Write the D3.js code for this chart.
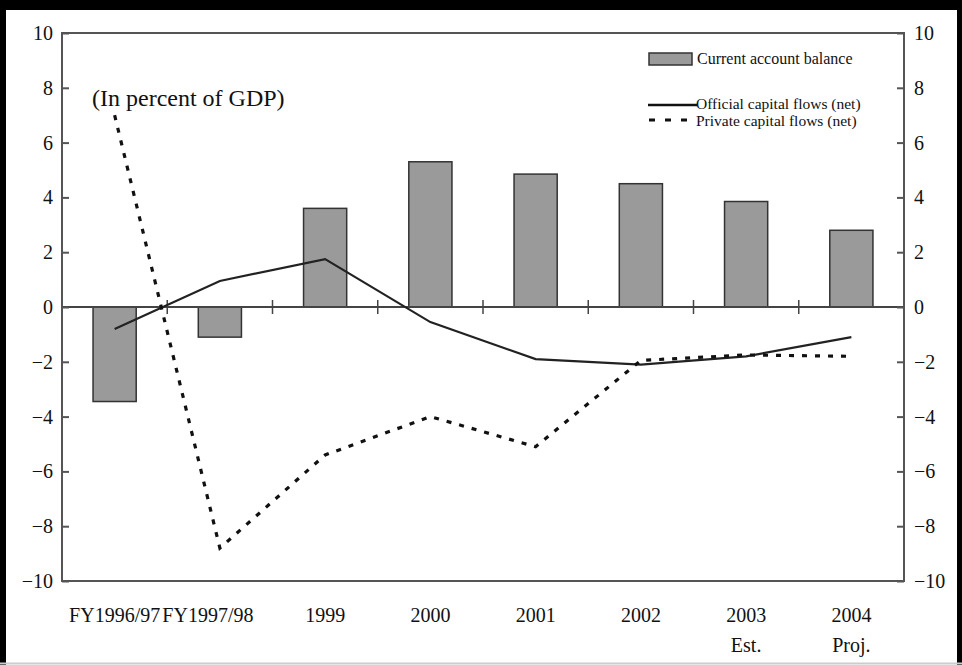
<!DOCTYPE html>
<html>
<head>
<meta charset="utf-8">
<script src="https://cdn.jsdelivr.net/npm/d3@7"></script>
<style>
  body { margin: 0; background: #fff; }
  svg text { font-family: "Liberation Serif", "Times New Roman", serif; fill: #111; }
</style>
</head>
<body>
<svg id="chart" width="962" height="665"></svg>
<script>
// categories and series (percent of GDP)
var years = ["FY1996/97", "FY1997/98", "1999", "2000", "2001", "2002", "2003", "2004"];
var subLabels = ["", "", "", "", "", "", "Est.", "Proj."];
var currentAccount = [-3.45, -1.1, 3.6, 5.3, 4.85, 4.5, 3.85, 2.8];
var officialFlows = [-0.8, 0.95, 1.75, -0.55, -1.9, -2.1, -1.8, -1.1];
var privateFlows = [7.0, -8.8, -5.4, -4.0, -5.1, -1.95, -1.75, -1.8];
var yTicks = [-10, -8, -6, -4, -2, 0, 2, 4, 6, 8, 10];

// plot box edges (don't use "top" -- it's window.top)
var plotL = 62, plotR = 904, plotT = 33, plotB = 581;

var svg = d3.select("#chart");

var x = d3.scaleBand()
    .domain(years)
    .range([plotL, plotR]);

var y = d3.scaleLinear()
    .domain([-10, 10])
    .range([plotB, plotT]);

// outer frame
svg.append("line").attr("x1", 3).attr("x2", 3).attr("y1", 0).attr("y2", 665)
    .attr("stroke", "#000").attr("stroke-width", 6);
svg.append("line").attr("x1", 0).attr("x2", 962).attr("y1", 5).attr("y2", 5)
    .attr("stroke", "#000").attr("stroke-width", 10);
svg.append("line").attr("x1", 959.5).attr("x2", 959.5).attr("y1", 0).attr("y2", 665)
    .attr("stroke", "#000").attr("stroke-width", 5);
svg.append("line").attr("x1", 0).attr("x2", 962).attr("y1", 663.5).attr("y2", 663.5)
    .attr("stroke", "#ccc").attr("stroke-width", 2);

// bars
svg.selectAll("rect.bar")
    .data(currentAccount)
  .enter().append("rect")
    .attr("class", "bar")
    .attr("x", function(d, i) { return x(years[i]) + x.bandwidth() * 0.295; })
    .attr("width", x.bandwidth() * 0.41)
    .attr("y", function(d) { return y(Math.max(d, 0)); })
    .attr("height", function(d) { return Math.abs(y(d) - y(0)); })
    .attr("fill", "#9a9a9a")
    .attr("stroke", "#333")
    .attr("stroke-width", 1.5);

// plot box
svg.append("rect")
    .attr("x", plotL).attr("y", plotT)
    .attr("width", plotR - plotL).attr("height", plotB - plotT)
    .attr("fill", "none").attr("stroke", "#555").attr("stroke-width", 2);

// zero line with category ticks
svg.append("line")
    .attr("x1", plotL).attr("x2", plotR)
    .attr("y1", y(0)).attr("y2", y(0))
    .attr("stroke", "#444").attr("stroke-width", 2);

svg.selectAll("line.xtick")
    .data(years.slice(1))
  .enter().append("line")
    .attr("class", "xtick")
    .attr("x1", function(d) { return x(d); })
    .attr("x2", function(d) { return x(d); })
    .attr("y1", y(0) - 7).attr("y2", y(0) + 7)
    .attr("stroke", "#444").attr("stroke-width", 1.5);

// y axes, same ticks both sides
function fmt(d) { return d < 0 ? "\u2212" + Math.abs(d) : d; }
var yLeft = d3.axisLeft(y).tickValues(yTicks).tickSize(-7).tickPadding(9).tickFormat(fmt);
var yRight = d3.axisRight(y).tickValues(yTicks).tickSize(-7).tickPadding(10).tickFormat(fmt);

var gl = svg.append("g").attr("transform", "translate(" + plotL + ",0)").call(yLeft);
var gr = svg.append("g").attr("transform", "translate(" + plotR + ",0)").call(yRight);
[gl, gr].forEach(function(g) {
  g.select(".domain").remove();
  g.selectAll(".tick line").attr("stroke", "#555").attr("stroke-width", 2);
  g.selectAll(".tick text")
      .attr("font-family", "Liberation Serif")
      .attr("font-size", 20)
      .attr("fill", "#111");
});

// x labels (second one sits a bit left in the original, butting the first)
svg.selectAll("text.xlab")
    .data(years)
  .enter().append("text")
    .attr("class", "xlab")
    .attr("x", function(d, i) { return x(d) + x.bandwidth() / 2 - (i == 1 ? 12 : 0); })
    .attr("y", 622)
    .attr("text-anchor", "middle")
    .attr("font-size", 20)
    .text(function(d) { return d; });

svg.selectAll("text.xsub")
    .data(subLabels)
  .enter().append("text")
    .attr("class", "xsub")
    .attr("x", function(d, i) { return x(years[i]) + x.bandwidth() / 2; })
    .attr("y", 652)
    .attr("text-anchor", "middle")
    .attr("font-size", 20)
    .text(function(d) { return d; });

// lines
var line = d3.line()
    .x(function(d, i) { return x(years[i]) + x.bandwidth() / 2; })
    .y(function(d) { return y(d); });

svg.append("path")
    .datum(officialFlows)
    .attr("d", line)
    .attr("fill", "none")
    .attr("stroke", "#222")
    .attr("stroke-width", 2.2);

svg.append("path")
    .datum(privateFlows)
    .attr("d", line)
    .attr("fill", "none")
    .attr("stroke", "#111")
    .attr("stroke-width", 3.2)
    .attr("stroke-dasharray", "5,8");

// annotation
svg.append("text")
    .attr("x", 92).attr("y", 106)
    .attr("font-size", 24)
    .text("(In percent of GDP)");

// legend
var legend = svg.append("g");
legend.append("rect")
    .attr("x", 649).attr("y", 53).attr("width", 43).attr("height", 12)
    .attr("fill", "#9a9a9a").attr("stroke", "#333").attr("stroke-width", 1.5);
legend.append("text").attr("x", 697).attr("y", 64).attr("font-size", 16)
    .text("Current account balance");
legend.append("line")
    .attr("x1", 648).attr("x2", 697).attr("y1", 105).attr("y2", 105)
    .attr("stroke", "#111").attr("stroke-width", 2.5);
legend.append("text").attr("x", 696).attr("y", 109).attr("font-size", 15.5)
    .text("Official capital flows (net)");
legend.append("line")
    .attr("x1", 649).attr("x2", 688).attr("y1", 120).attr("y2", 120)
    .attr("stroke", "#111").attr("stroke-width", 3)
    .attr("stroke-dasharray", "6,10");
legend.append("text").attr("x", 696).attr("y", 126).attr("font-size", 15.5)
    .text("Private capital flows (net)");
</script>
</body>
</html>
